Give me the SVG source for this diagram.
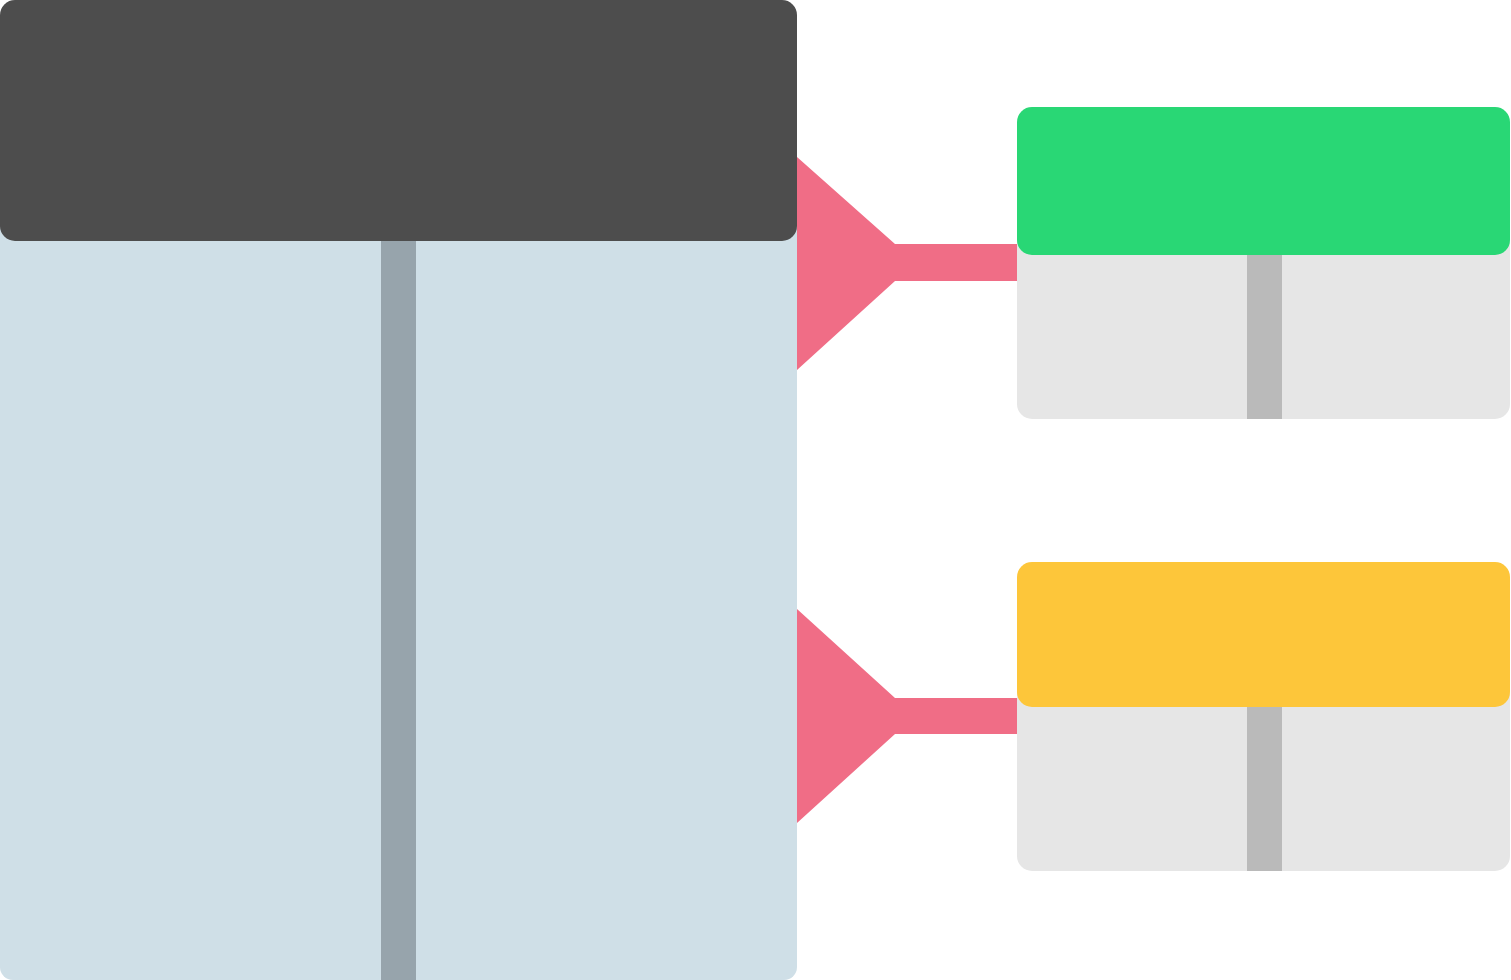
<svg xmlns="http://www.w3.org/2000/svg" width="1511" height="980" viewBox="0 0 1511 980">
<style>
.body{fill:#cfdfe7}
.head{fill:#4d4d4d}
.bar{fill:#97a4ac}
.sbody{fill:#e6e6e6}
.sbar{fill:#bababa}
.conn{fill:#f06d86}
</style>
<rect width="1511" height="980" fill="#ffffff"/>
<g id="main">
<rect class="body" x="0" y="200" width="797" height="780" rx="13"/>
<rect class="bar" x="381" y="235" width="35" height="745"/>
<rect class="head" x="0" y="0" width="797" height="241" rx="15"/>
</g>
<g id="connectors">
<path class="conn" d="M797 157 L895 244 L1018 244 L1018 281 L895 281 L797 370 Z"/>
<path class="conn" d="M797 609 L895 698 L1018 698 L1018 734 L895 734 L797 823 Z"/>
</g>
<g id="node-green">
<rect class="sbody" x="1017" y="200" width="493" height="219" rx="15"/>
<rect class="sbar" x="1247" y="250" width="35" height="169"/>
<rect x="1017" y="107" width="493" height="148" rx="15" fill="#29d775"/>
</g>
<g id="node-yellow">
<rect class="sbody" x="1017" y="650" width="493" height="221" rx="15"/>
<rect class="sbar" x="1247" y="700" width="35" height="171"/>
<rect x="1017" y="562" width="493" height="145" rx="15" fill="#fdc63a"/>
</g>
</svg>
